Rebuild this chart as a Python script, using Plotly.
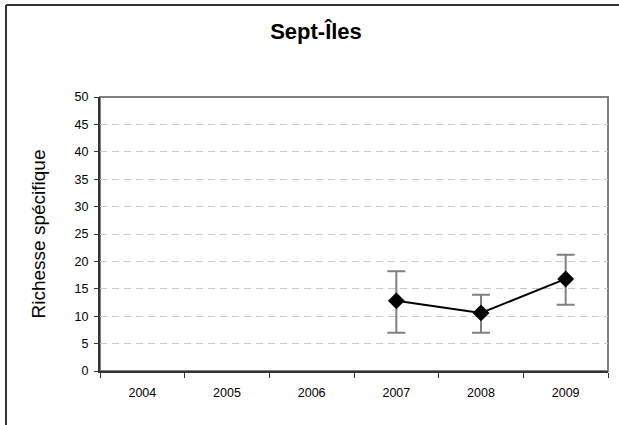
import plotly.graph_objects as go

years = ["2004", "2005", "2006", "2007", "2008", "2009"]
richesse = [None, None, None, 12.8, 10.6, 16.8]
err_plus = [0, 0, 0, 5.4, 3.3, 4.4]
err_minus = [0, 0, 0, 5.8, 3.6, 4.7]
y_ticks = [0, 5, 10, 15, 20, 25, 30, 35, 40, 45, 50]

W, H = 619, 425
L, R, T, B = 100, 11, 97, 54
pw, ph = W - L - R, H - T - B

fig = go.Figure()
fig.add_trace(go.Scatter(
    x=years, y=richesse, mode="lines+markers",
    line=dict(color="black", width=2),
    marker=dict(symbol="diamond", size=13, color="black"),
    error_y=dict(type="data", symmetric=False, array=err_plus, arrayminus=err_minus,
                 color="#808080", thickness=2, width=9),
    connectgaps=False, showlegend=False,
))

def px_x(p):
    return (p - L) / pw

def px_y(p):
    return (H - B - p) / ph

fig.add_shape(type="rect", xref="paper", yref="paper",
              x0=0, x1=1, y0=0, y1=1, line=dict(color="#808080", width=2), layer="below")
fig.add_shape(type="line", xref="paper", yref="paper",
              x0=px_x(6), x1=px_x(700), y0=px_y(5), y1=px_y(5),
              line=dict(color="#333333", width=2), layer="below")
fig.add_shape(type="line", xref="paper", yref="paper",
              x0=px_x(6), x1=px_x(6), y0=px_y(5), y1=px_y(500),
              line=dict(color="#333333", width=2), layer="below")

fig.update_layout(
    width=W, height=H,
    margin=dict(l=L, r=R, t=T, b=B),
    paper_bgcolor="white", plot_bgcolor="white",
    font=dict(family="Liberation Sans, Arial, sans-serif", color="black"),
    title=dict(text="<b>Sept-Îles</b>", x=316 / W, xanchor="center",
               y=1 - 31 / H, yanchor="middle", font=dict(size=22, color="black")),
    xaxis=dict(type="category", categoryorder="array", categoryarray=years,
               tickson="boundaries", ticks="outside", ticklen=5, tickcolor="#333333",
               showline=True, linecolor="#333333", linewidth=2, showgrid=False,
               ticklabelstandoff=9,
               tickfont=dict(size=12.5), range=[-0.5, 5.5], fixedrange=True),
    yaxis=dict(range=[0, 50], tickvals=y_ticks, ticks="outside", ticklen=4,
               tickcolor="#333333", showline=True, linecolor="#333333", linewidth=2,
               showgrid=True, gridcolor="#c8c8c8", griddash="7px,5px", gridwidth=1,
               zeroline=False, tickfont=dict(size=12.5), ticklabelstandoff=3,
               title=dict(text="Richesse spécifique", font=dict(size=19), standoff=24)),
)

fig.write_html("out.html", config={"displayModeBar": False})
